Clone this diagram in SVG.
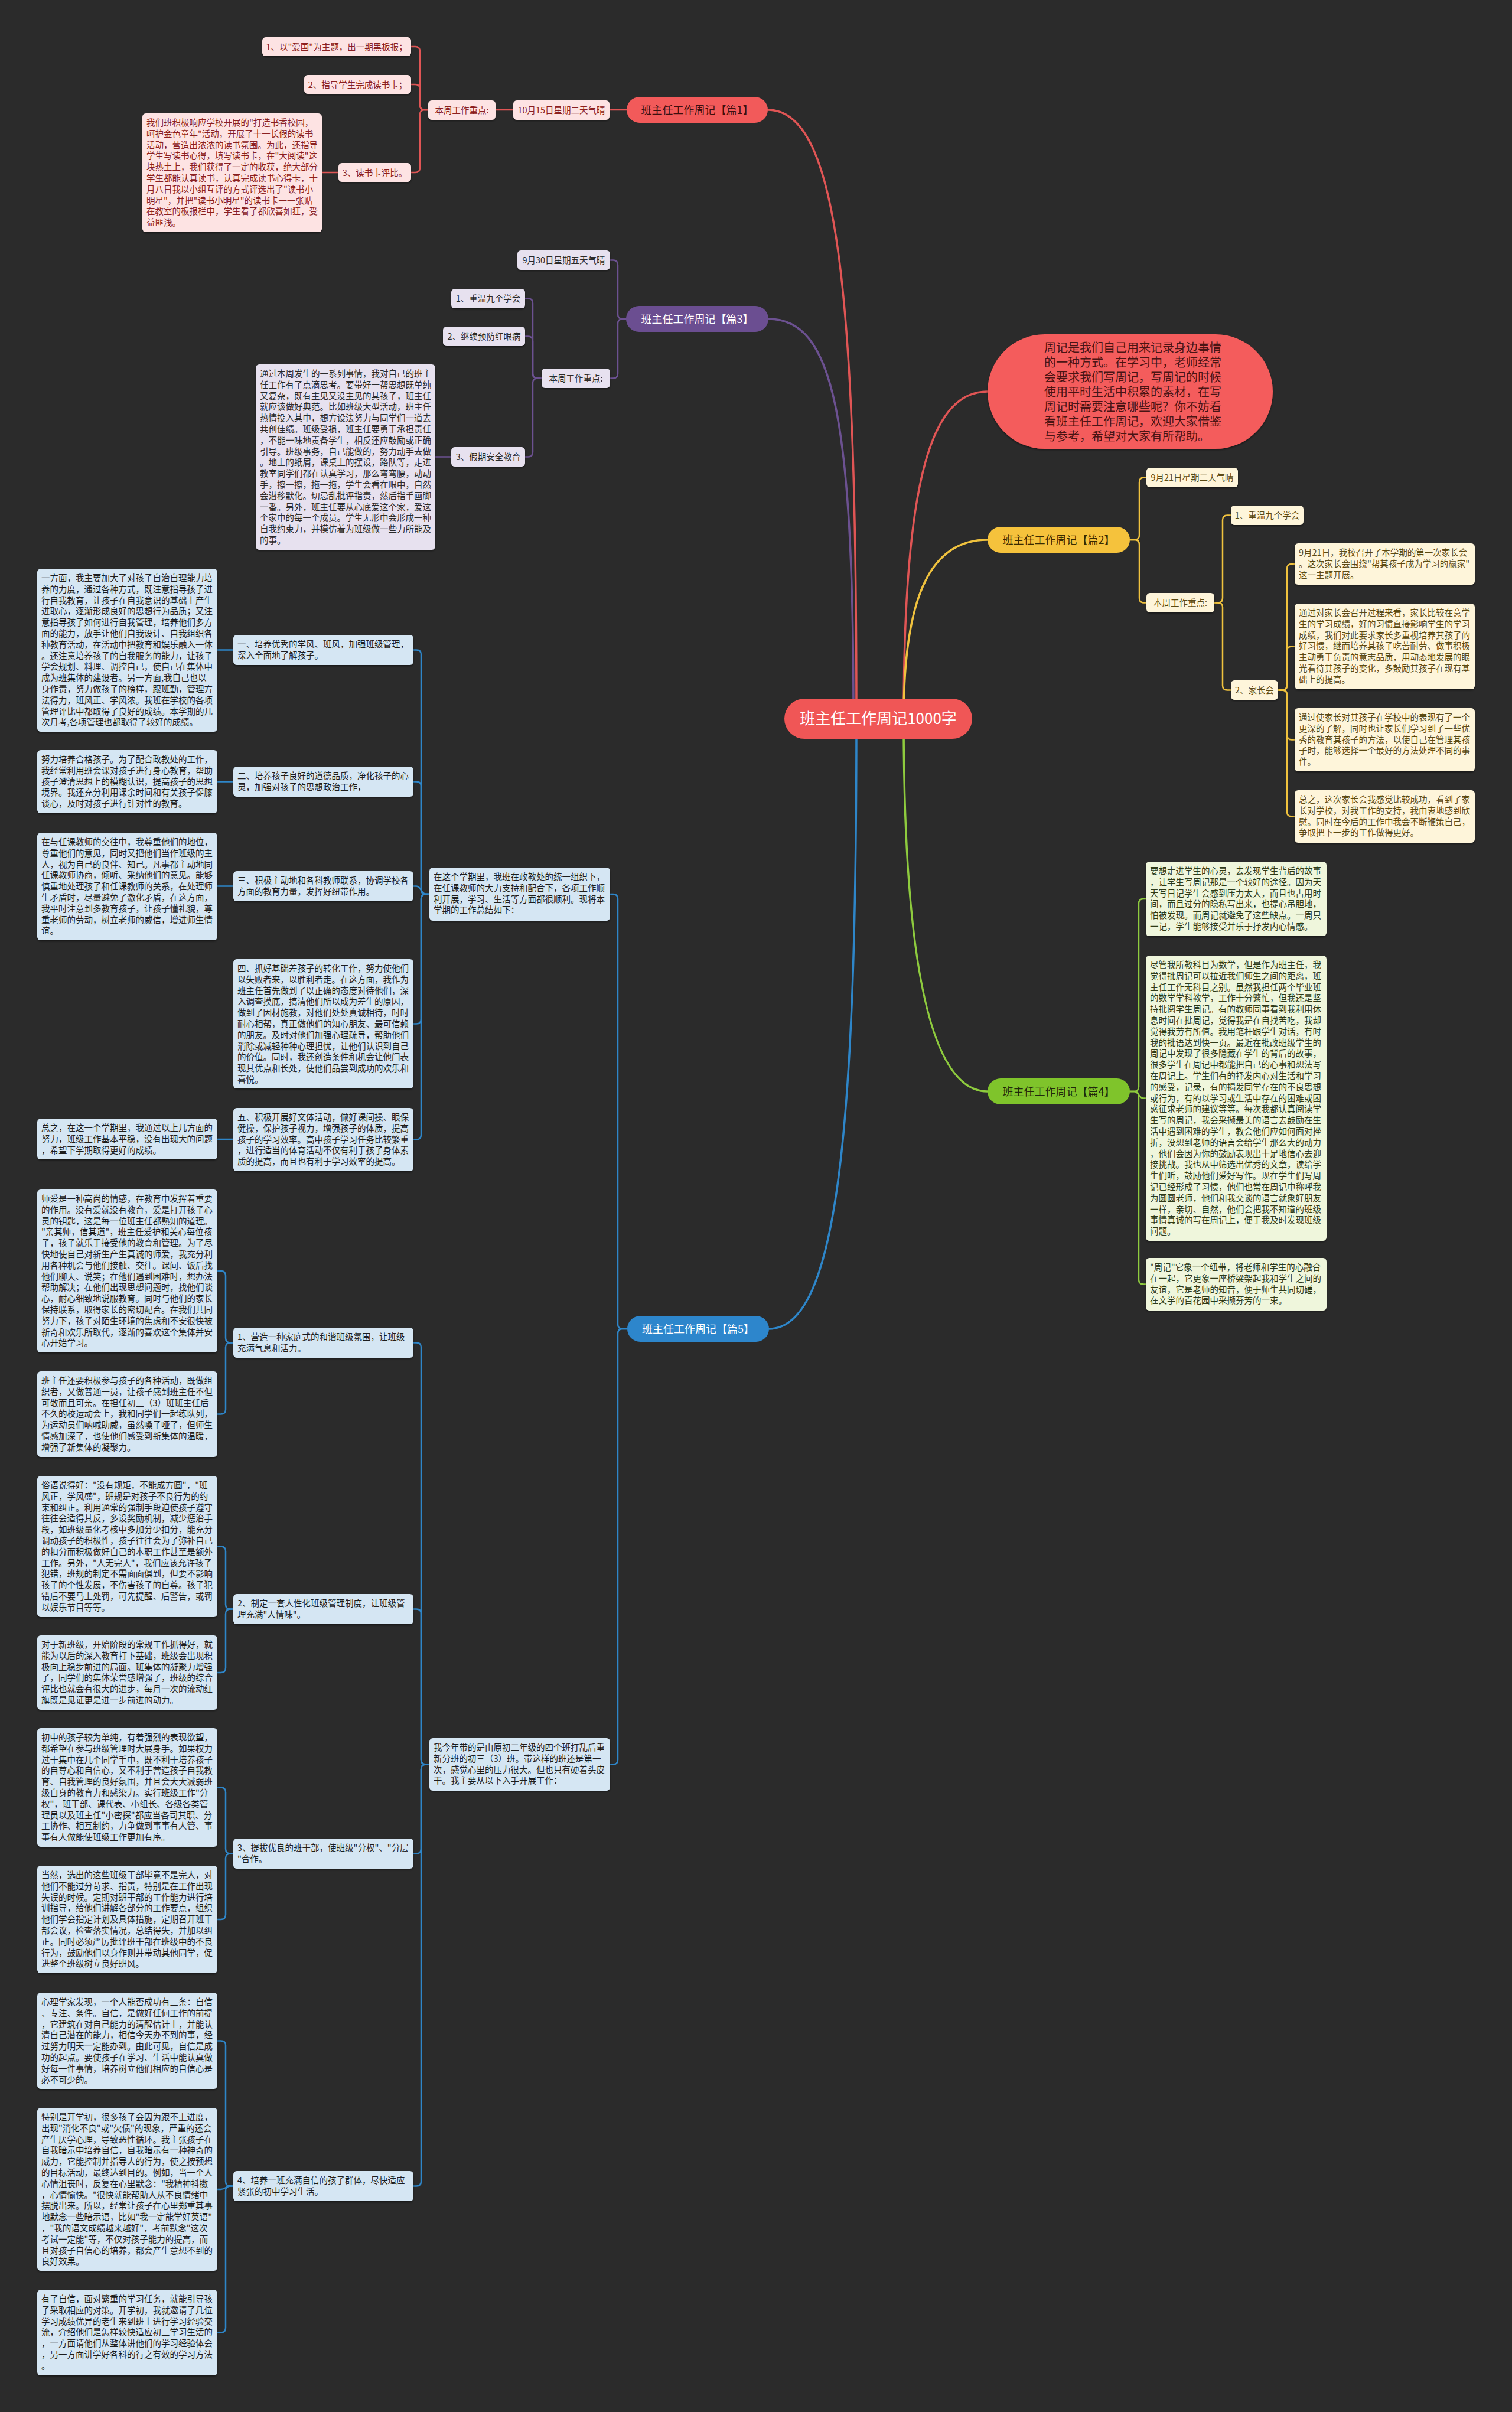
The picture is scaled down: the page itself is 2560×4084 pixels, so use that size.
<svg xmlns="http://www.w3.org/2000/svg" width="2560" height="4084" viewBox="0 0 2560 4084">
<defs>
<filter id="sh" x="-5%" y="-5%" width="110%" height="115%"><feDropShadow dx="0" dy="2" stdDeviation="1.5" flood-color="#000" flood-opacity="0.45"/></filter>
<style>
.tx{font-family:"Noto Sans CJK SC","Noto Sans",sans-serif;font-size:14.5px}
.tc{text-anchor:middle}
.bx{filter:url(#sh)}
.fr{fill:#fde3e3}.cr{fill:#8b2020}
.fp{fill:#e7e1ef}.cp{fill:#2a2a2a}
.fy{fill:#fef5da}.cy{fill:#5c4a13}
.fg{fill:#eff6dc}.cg{fill:#2e3a18}
.fb{fill:#d5e6f3}.cb{fill:#1d1d1d}
.ln{fill:none;stroke-width:2.5;stroke-linecap:round}
.lr{stroke:#e05555}.lp{stroke:#6c5191}.ly{stroke:#f0c23e}.lg{stroke:#8ecb3e}.lb{stroke:#2e86c9}
.rt{fill:none;stroke-width:3.5;stroke-linecap:round}
.pill{font-family:"Noto Sans CJK SC","Noto Sans",sans-serif;font-size:18px;text-anchor:middle}
</style>
</defs>
<rect x="0" y="0" width="2560" height="4084" fill="#2b2b2b"/>

<g id="connectors">
<path class="rt lr" d="M 1450 1217 C 1450 500, 1420 186, 1300 186"/>
<path class="rt lp" d="M 1445 1217 C 1445 700, 1410 540, 1301 540"/>
<path class="rt lb" d="M 1450 1217 C 1450 1900, 1420 2250, 1302 2250"/>
<path class="rt lr" d="M 1530 1217 C 1530 800, 1580 663, 1672 663"/>
<path class="rt ly" d="M 1530 1217 C 1530 1000, 1580 914, 1672 914"/>
<path class="rt lg" d="M 1530 1217 C 1530 1650, 1580 1848, 1672 1848"/>

<path class="ln lr" d="M 1061 186 H 1032"/>
<path class="ln lr" d="M 869 186 H 839"/>
<path class="ln lr" d="M 725 186 H 719 Q 711 186 711 178 V 87 Q 711 79 703 79 H 696"/>
<path class="ln lr" d="M 725 186 H 719 Q 711 186 711 178 V 151 Q 711 143 703 143 H 696"/>
<path class="ln lr" d="M 725 186 H 719 Q 711 186 711 194 V 284 Q 711 292 703 292 H 696"/>
<path class="ln lr" d="M 573 292 H 545"/>

<path class="ln lp" d="M 1060 540 H 1054 Q 1046 540 1046 532 V 448.5 Q 1046 440.5 1038 440.5 H 1033"/>
<path class="ln lp" d="M 1060 540 H 1054 Q 1046 540 1046 548 V 632.5 Q 1046 640.5 1038 640.5 H 1033"/>
<path class="ln lp" d="M 917 640.5 H 910 Q 902 640.5 902 632.5 V 513.5 Q 902 505.5 894 505.5 H 889"/>
<path class="ln lp" d="M 917 640.5 H 910 Q 902 640.5 902 632.5 V 577.5 Q 902 569.5 894 569.5 H 889"/>
<path class="ln lp" d="M 917 640.5 H 910 Q 902 640.5 902 648.5 V 765.5 Q 902 773.5 894 773.5 H 889"/>
<path class="ln lp" d="M 764 773.5 H 737"/>

<path class="ln ly" d="M 1913 914 H 1921 Q 1929 914 1929 906 V 816.5 Q 1929 808.5 1937 808.5 H 1941"/>
<path class="ln ly" d="M 1913 914 H 1921 Q 1929 914 1929 922 V 1012.5 Q 1929 1020.5 1937 1020.5 H 1941"/>
<path class="ln ly" d="M 2056 1020.5 H 2062 Q 2070 1020.5 2070 1012.5 V 880.5 Q 2070 872.5 2078 872.5 H 2084"/>
<path class="ln ly" d="M 2056 1020.5 H 2062 Q 2070 1020.5 2070 1028.5 V 1160.5 Q 2070 1168.5 2078 1168.5 H 2084"/>
<path class="ln ly" d="M 2164 1168.5 H 2171 Q 2179 1168.5 2179 1160.5 V 963 Q 2179 955 2187 955 H 2192"/>
<path class="ln ly" d="M 2164 1168.5 H 2171 Q 2179 1168.5 2179 1160.5 V 1102.5 Q 2179 1094.5 2187 1094.5 H 2192"/>
<path class="ln ly" d="M 2164 1168.5 H 2171 Q 2179 1168.5 2179 1176.5 V 1244.5 Q 2179 1252.5 2187 1252.5 H 2192"/>
<path class="ln ly" d="M 2164 1168.5 H 2171 Q 2179 1168.5 2179 1176.5 V 1374.5 Q 2179 1382.5 2187 1382.5 H 2192"/>

<path class="ln lg" d="M 1913 1848 H 1920 Q 1928 1848 1928 1840 V 1530 Q 1928 1522 1936 1522 H 1940"/>
<path class="ln lg" d="M 1913 1848 H 1920 C 1928 1848 1928 1859.5 1936 1859.5 H 1940"/>
<path class="ln lg" d="M 1913 1848 H 1920 Q 1928 1848 1928 1856 V 2166.5 Q 1928 2174.5 1936 2174.5 H 1940"/>

<path class="ln lb" d="M 1062 2250 H 1054 Q 1046 2250 1046 2242 V 1522 Q 1046 1514 1038 1514 H 1033"/>
<path class="ln lb" d="M 1062 2250 H 1054 Q 1046 2250 1046 2258 V 2979.5 Q 1046 2987.5 1038 2987.5 H 1033"/>
<path class="ln lb" d="M 727 1514 H 721 Q 713 1514 713 1506 V 1108.5 Q 713 1100.5 705 1100.5 H 700"/>
<path class="ln lb" d="M 727 1514 H 721 Q 713 1514 713 1506 V 1331.5 Q 713 1323.5 705 1323.5 H 700"/>
<path class="ln lb" d="M 727 1514 H 721 C 713 1514 713 1500.5 705 1500.5 H 700"/>
<path class="ln lb" d="M 727 1514 H 721 Q 713 1514 713 1522 V 1725.5 Q 713 1733.5 705 1733.5 H 700"/>
<path class="ln lb" d="M 727 1514 H 721 Q 713 1514 713 1522 V 1921.5 Q 713 1929.5 705 1929.5 H 700"/>
<path class="ln lb" d="M 395 1100.5 H 368"/>
<path class="ln lb" d="M 395 1323.5 H 368"/>
<path class="ln lb" d="M 395 1500.5 H 368"/>
<path class="ln lb" d="M 395 1929 H 368"/>
<path class="ln lb" d="M 727 2987.5 H 721 Q 713 2987.5 713 2979.5 V 2281.5 Q 713 2273.5 705 2273.5 H 700"/>
<path class="ln lb" d="M 727 2987.5 H 721 Q 713 2987.5 713 2979.5 V 2732.5 Q 713 2724.5 705 2724.5 H 700"/>
<path class="ln lb" d="M 727 2987.5 H 721 Q 713 2987.5 713 2995.5 V 3130.5 Q 713 3138.5 705 3138.5 H 700"/>
<path class="ln lb" d="M 727 2987.5 H 721 Q 713 2987.5 713 2995.5 V 3693.5 Q 713 3701.5 705 3701.5 H 700"/>
<path class="ln lb" d="M 395 2273.5 H 390 Q 382 2273.5 382 2265.5 V 2160 Q 382 2152 374 2152 H 368"/>
<path class="ln lb" d="M 395 2273.5 H 390 Q 382 2273.5 382 2281.5 V 2386.5 Q 382 2394.5 374 2394.5 H 368"/>
<path class="ln lb" d="M 395 2724.5 H 390 Q 382 2724.5 382 2716.5 V 2626.5 Q 382 2618.5 374 2618.5 H 368"/>
<path class="ln lb" d="M 395 2724.5 H 390 Q 382 2724.5 382 2732.5 V 2824 Q 382 2832 374 2832 H 368"/>
<path class="ln lb" d="M 395 3138.5 H 390 Q 382 3138.5 382 3130.5 V 3034.5 Q 382 3026.5 374 3026.5 H 368"/>
<path class="ln lb" d="M 395 3138.5 H 390 Q 382 3138.5 382 3146.5 V 3242 Q 382 3250 374 3250 H 368"/>
<path class="ln lb" d="M 395 3701.5 H 390 Q 382 3701.5 382 3693.5 V 3463.5 Q 382 3455.5 374 3455.5 H 368"/>
<path class="ln lb" d="M 395 3701.5 H 390 C 382 3701.5 382 3707 374 3707 H 368"/>
<path class="ln lb" d="M 395 3701.5 H 390 Q 382 3701.5 382 3709.5 V 3941.5 Q 382 3949.5 374 3949.5 H 368"/>
</g>

<g id="root">
<rect x="1328" y="1183" width="318" height="68" rx="34" fill="#f05656"/>
<text class="pill" x="1487" y="1226" style="font-size:26px" fill="#ffffff">班主任工作周记1000字</text>
</g>

<g id="intro">
<rect class="bx" x="1672" y="566" width="483" height="194" rx="97" fill="#f45b5b"/>
<text class="tx" x="1768" y="596" style="font-size:20px" fill="#4a1414"><tspan x="1768" dy="0">周记是我们自己用来记录身边事情</tspan><tspan x="1768" dy="25">的一种方式。在学习中，老师经常</tspan><tspan x="1768" dy="25">会要求我们写周记，写周记的时候</tspan><tspan x="1768" dy="25">使用平时生活中积累的素材，在写</tspan><tspan x="1768" dy="25">周记时需要注意哪些呢？你不妨看</tspan><tspan x="1768" dy="25">看班主任工作周记，欢迎大家借鉴</tspan><tspan x="1768" dy="25">与参考，希望对大家有所帮助。</tspan></text>
</g>

<g id="p1">
<rect x="1061" y="164" width="239" height="44" rx="22" fill="#f25a5a"/>
<text class="pill" x="1180.5" y="192.5" fill="#3d0f0f">班主任工作周记【篇1】</text>
</g>
<g id="p1-date"><rect class="bx fr" x="869" y="170" width="163" height="33" rx="6"/><text class="tx tc cr" x="950.5" y="191.5">10月15日星期二天气晴</text></g>
<g id="p1-focus"><rect class="bx fr" x="725" y="170" width="114" height="33" rx="6"/><text class="tx tc cr" x="782" y="191.5">本周工作重点:</text></g>
<g id="p1-a1"><rect class="bx fr" x="444" y="63" width="252" height="32" rx="6"/><text class="tx tc cr" x="570" y="84.5">1、以"爱国"为主题，出一期黑板报；</text></g>
<g id="p1-a2"><rect class="bx fr" x="515" y="127" width="181" height="32" rx="6"/><text class="tx tc cr" x="605.5" y="148.5">2、指导学生完成读书卡；</text></g>
<g id="p1-a3"><rect class="bx fr" x="573" y="276" width="123" height="32" rx="6"/><text class="tx tc cr" x="634.5" y="297.5">3、读书卡评比。</text></g>
<g id="p1-a3-t"><rect class="bx fr" x="241" y="192" width="304" height="201" rx="6"/>
<text class="tx cr" x="248" y="213"><tspan x="248" dy="0">我们班积极响应学校开展的"打造书香校园，</tspan><tspan x="248" dy="18.8">呵护金色童年"活动，开展了十一长假的读书</tspan><tspan x="248" dy="18.8">活动，营造出浓浓的读书氛围。为此，还指导</tspan><tspan x="248" dy="18.8">学生写读书心得，填写读书卡，在"大阅读"这</tspan><tspan x="248" dy="18.8">块热土上，我们获得了一定的收获，绝大部分</tspan><tspan x="248" dy="18.8">学生都能认真读书，认真完成读书心得卡，十</tspan><tspan x="248" dy="18.8">月八日我以小组互评的方式评选出了"读书小</tspan><tspan x="248" dy="18.8">明星"，并把"读书小明星"的读书卡一一张贴</tspan><tspan x="248" dy="18.8">在教室的板报栏中，学生看了都欣喜如狂，受</tspan><tspan x="248" dy="18.8">益匪浅。</tspan></text></g>

<g id="p3">
<rect x="1060" y="518" width="241" height="44" rx="22" fill="#6b4e91"/>
<text class="pill" x="1180.5" y="546.5" fill="#ffffff">班主任工作周记【篇3】</text>
</g>
<g id="p3-date"><rect class="bx fp" x="876" y="424" width="157" height="33" rx="6"/><text class="tx tc cp" x="954.5" y="446">9月30日星期五天气晴</text></g>
<g id="p3-focus"><rect class="bx fp" x="917" y="624" width="116" height="33" rx="6"/><text class="tx tc cp" x="975" y="646">本周工作重点:</text></g>
<g id="p3-a1"><rect class="bx fp" x="764" y="489" width="125" height="33" rx="6"/><text class="tx tc cp" x="826.5" y="511">1、重温九个学会</text></g>
<g id="p3-a2"><rect class="bx fp" x="750" y="553" width="139" height="33" rx="6"/><text class="tx tc cp" x="819.5" y="575">2、继续预防红眼病</text></g>
<g id="p3-a3"><rect class="bx fp" x="764" y="757" width="125" height="33" rx="6"/><text class="tx tc cp" x="826.5" y="779">3、假期安全教育</text></g>
<g id="p3-a3-t"><rect class="bx fp" x="433" y="617" width="304" height="314" rx="6"/>
<text class="tx cp" x="440" y="638"><tspan x="440" dy="0">通过本周发生的一系列事情，我对自己的班主</tspan><tspan x="440" dy="18.8">任工作有了点滴思考。要带好一帮思想既单纯</tspan><tspan x="440" dy="18.8">又复杂，既有主见又没主见的其孩子，班主任</tspan><tspan x="440" dy="18.8">就应该做好典范。比如班级大型活动，班主任</tspan><tspan x="440" dy="18.8">热情投入其中，想方设法努力与同学们一道去</tspan><tspan x="440" dy="18.8">共创佳绩。班级受损，班主任要勇于承担责任</tspan><tspan x="440" dy="18.8">，不能一味地责备学生，相反还应鼓励或正确</tspan><tspan x="440" dy="18.8">引导。班级事务，自己能做的，努力动手去做</tspan><tspan x="440" dy="18.8">。地上的纸屑，课桌上的摆设，路队等，走进</tspan><tspan x="440" dy="18.8">教室同学们都在认真学习，那么弯弯腰，动动</tspan><tspan x="440" dy="18.8">手，擦一擦，拖一拖，学生会看在眼中，自然</tspan><tspan x="440" dy="18.8">会潜移默化。切忌乱批评指责，然后指手画脚</tspan><tspan x="440" dy="18.8">一番。另外，班主任要从心底爱这个家，爱这</tspan><tspan x="440" dy="18.8">个家中的每一个成员。学生无形中会形成一种</tspan><tspan x="440" dy="18.8">自我约束力，并模仿着为班级做一些力所能及</tspan><tspan x="440" dy="18.8">的事。</tspan></text></g>

<g id="p2">
<rect x="1672" y="892" width="241" height="44" rx="22" fill="#f5c23c"/>
<text class="pill" x="1792.5" y="920.5" fill="#3a2a00">班主任工作周记【篇2】</text>
</g>
<g id="p2-date"><rect class="bx fy" x="1941" y="792" width="155" height="33" rx="6"/><text class="tx tc cy" x="2018.5" y="814">9月21日星期二天气晴</text></g>
<g id="p2-focus"><rect class="bx fy" x="1941" y="1004" width="115" height="33" rx="6"/><text class="tx tc cy" x="1998.5" y="1026">本周工作重点:</text></g>
<g id="p2-a1"><rect class="bx fy" x="2084" y="856" width="123" height="33" rx="6"/><text class="tx tc cy" x="2145.5" y="878">1、重温九个学会</text></g>
<g id="p2-a2"><rect class="bx fy" x="2084" y="1152" width="80" height="33" rx="6"/><text class="tx tc cy" x="2124" y="1174">2、家长会</text></g>
<g id="p2-t0"><rect class="bx fy" x="2192" y="920" width="305" height="70" rx="6"/>
<text class="tx cy" x="2199" y="941"><tspan x="2199" dy="0">9月21日，我校召开了本学期的第一次家长会</tspan><tspan x="2199" dy="18.8">。这次家长会围绕"帮其孩子成为学习的赢家"</tspan><tspan x="2199" dy="18.8">这一主题开展。</tspan></text></g>
<g id="p2-t1"><rect class="bx fy" x="2192" y="1022" width="305" height="145" rx="6"/>
<text class="tx cy" x="2199" y="1043"><tspan x="2199" dy="0">通过对家长会召开过程来看，家长比较在意学</tspan><tspan x="2199" dy="18.8">生的学习成绩，好的习惯直接影响学生的学习</tspan><tspan x="2199" dy="18.8">成绩，我们对此要求家长多重视培养其孩子的</tspan><tspan x="2199" dy="18.8">好习惯，继而培养其孩子吃苦耐劳、做事积极</tspan><tspan x="2199" dy="18.8">主动勇于负责的意志品质，用动态地发展的眼</tspan><tspan x="2199" dy="18.8">光看待其孩子的变化，多鼓励其孩子在现有基</tspan><tspan x="2199" dy="18.8">础上的提高。</tspan></text></g>
<g id="p2-t2"><rect class="bx fy" x="2192" y="1199" width="305" height="107" rx="6"/>
<text class="tx cy" x="2199" y="1220"><tspan x="2199" dy="0">通过使家长对其孩子在学校中的表现有了一个</tspan><tspan x="2199" dy="18.8">更深的了解，同时也让家长们学习到了一些优</tspan><tspan x="2199" dy="18.8">秀的教育其孩子的方法，以使自己在管理其孩</tspan><tspan x="2199" dy="18.8">子时，能够选择一个最好的方法处理不同的事</tspan><tspan x="2199" dy="18.8">件。</tspan></text></g>
<g id="p2-t3"><rect class="bx fy" x="2192" y="1338" width="305" height="89" rx="6"/>
<text class="tx cy" x="2199" y="1359"><tspan x="2199" dy="0">总之，这次家长会我感觉比较成功，看到了家</tspan><tspan x="2199" dy="18.8">长对学校，对我工作的支持，我由衷地感到欣</tspan><tspan x="2199" dy="18.8">慰。同时在今后的工作中我会不断鞭策自己，</tspan><tspan x="2199" dy="18.8">争取把下一步的工作做得更好。</tspan></text></g>

<g id="p4">
<rect x="1672" y="1826" width="241" height="44" rx="22" fill="#7fc42b"/>
<text class="pill" x="1792.5" y="1854.5" fill="#1f2a0c">班主任工作周记【篇4】</text>
</g>
<g id="p4-t1"><rect class="bx fg" x="1940" y="1459" width="306" height="126" rx="6"/>
<text class="tx cg" x="1947" y="1480"><tspan x="1947" dy="0">要想走进学生的心灵，去发现学生背后的故事</tspan><tspan x="1947" dy="18.8">，让学生写周记那是一个较好的途径。因为天</tspan><tspan x="1947" dy="18.8">天写日记学生会感到压力太大，而且也占用时</tspan><tspan x="1947" dy="18.8">间，而且过分的隐私写出来，也提心吊胆地，</tspan><tspan x="1947" dy="18.8">怕被发现。而周记就避免了这些缺点。一周只</tspan><tspan x="1947" dy="18.8">一记，学生能够接受并乐于抒发内心情感。</tspan></text></g>
<g id="p4-t2"><rect class="bx fg" x="1940" y="1618" width="306" height="483" rx="6"/>
<text class="tx cg" x="1947" y="1639"><tspan x="1947" dy="0">尽管我所教科目为数学，但是作为班主任，我</tspan><tspan x="1947" dy="18.8">觉得批周记可以拉近我们师生之间的距离，班</tspan><tspan x="1947" dy="18.8">主任工作无科目之别。虽然我担任两个毕业班</tspan><tspan x="1947" dy="18.8">的数学学科教学，工作十分繁忙，但我还是坚</tspan><tspan x="1947" dy="18.8">持批阅学生周记。有的教师同事看到我利用休</tspan><tspan x="1947" dy="18.8">息时间在批周记，觉得我是在自找苦吃，我却</tspan><tspan x="1947" dy="18.8">觉得我劳有所值。我用笔杆跟学生对话，有时</tspan><tspan x="1947" dy="18.8">我的批语达到快一页。最近在批改班级学生的</tspan><tspan x="1947" dy="18.8">周记中发现了很多隐藏在学生的背后的故事，</tspan><tspan x="1947" dy="18.8">很多学生在周记中都能把自己的心事和想法写</tspan><tspan x="1947" dy="18.8">在周记上。学生们有的抒发内心对生活和学习</tspan><tspan x="1947" dy="18.8">的感受，记录，有的揭发同学存在的不良思想</tspan><tspan x="1947" dy="18.8">或行为，有的以学习或生活中存在的困难或困</tspan><tspan x="1947" dy="18.8">惑征求老师的建议等等。每次我都认真阅读学</tspan><tspan x="1947" dy="18.8">生写的周记，我会采撷最美的语言去鼓励在生</tspan><tspan x="1947" dy="18.8">活中遇到困难的学生，教会他们应如何面对挫</tspan><tspan x="1947" dy="18.8">折，没想到老师的语言会给学生那么大的动力</tspan><tspan x="1947" dy="18.8">，他们会因为你的鼓励表现出十足地信心去迎</tspan><tspan x="1947" dy="18.8">接挑战。我也从中筛选出优秀的文章，读给学</tspan><tspan x="1947" dy="18.8">生们听，鼓励他们爱好写作。现在学生们写周</tspan><tspan x="1947" dy="18.8">记已经形成了习惯，他们也常在周记中称呼我</tspan><tspan x="1947" dy="18.8">为圆圆老师，他们和我交谈的语言就象好朋友</tspan><tspan x="1947" dy="18.8">一样，亲切、自然，他们会把我不知道的班级</tspan><tspan x="1947" dy="18.8">事情真诚的写在周记上，便于我及时发现班级</tspan><tspan x="1947" dy="18.8">问题。</tspan></text></g>
<g id="p4-t3"><rect class="bx fg" x="1940" y="2130" width="306" height="89" rx="6"/>
<text class="tx cg" x="1947" y="2151"><tspan x="1947" dy="0">"周记"它象一个纽带，将老师和学生的心融合</tspan><tspan x="1947" dy="18.8">在一起，它更象一座桥梁架起我和学生之间的</tspan><tspan x="1947" dy="18.8">友谊，它是老师的知音，便于师生共同切磋，</tspan><tspan x="1947" dy="18.8">在文学的百花园中采撷芬芳的一束。</tspan></text></g>

<g id="p5">
<rect x="1062" y="2228" width="240" height="44" rx="22" fill="#2d86cc"/>
<text class="pill" x="1182" y="2256.5" fill="#ffffff">班主任工作周记【篇5】</text>
</g>
<g id="p5-s1"><rect class="bx fb" x="727" y="1469" width="306" height="90" rx="6"/>
<text class="tx cb" x="734" y="1490"><tspan x="734" dy="0">在这个学期里，我班在政教处的统一组织下，</tspan><tspan x="734" dy="18.8">在任课教师的大力支持和配合下，各项工作顺</tspan><tspan x="734" dy="18.8">利开展，学习、生活等方面都很顺利。现将本</tspan><tspan x="734" dy="18.8">学期的工作总结如下：</tspan></text></g>
<g id="p5-s1-1"><rect class="bx fb" x="395" y="1075" width="305" height="51" rx="6"/>
<text class="tx cb" x="402" y="1096"><tspan x="402" dy="0">一、培养优秀的学风、班风，加强班级管理，</tspan><tspan x="402" dy="18.8">深入全面地了解孩子。</tspan></text></g>
<g id="p5-s1-2"><rect class="bx fb" x="395" y="1298" width="305" height="51" rx="6"/>
<text class="tx cb" x="402" y="1319"><tspan x="402" dy="0">二、培养孩子良好的道德品质，净化孩子的心</tspan><tspan x="402" dy="18.8">灵，加强对孩子的思想政治工作，</tspan></text></g>
<g id="p5-s1-3"><rect class="bx fb" x="395" y="1475" width="305" height="51" rx="6"/>
<text class="tx cb" x="402" y="1496"><tspan x="402" dy="0">三、积极主动地和各科教师联系，协调学校各</tspan><tspan x="402" dy="18.8">方面的教育力量，发挥好纽带作用。</tspan></text></g>
<g id="p5-s1-4"><rect class="bx fb" x="395" y="1624" width="305" height="219" rx="6"/>
<text class="tx cb" x="402" y="1645"><tspan x="402" dy="0">四、抓好基础差孩子的转化工作，努力使他们</tspan><tspan x="402" dy="18.8">以失败者来，以胜利者走。在这方面，我作为</tspan><tspan x="402" dy="18.8">班主任首先做到了以正确的态度对待他们，深</tspan><tspan x="402" dy="18.8">入调查摸底，搞清他们所以成为差生的原因，</tspan><tspan x="402" dy="18.8">做到了因材施教，对他们处处真诚相待，时时</tspan><tspan x="402" dy="18.8">耐心相帮，真正做他们的知心朋友、最可信赖</tspan><tspan x="402" dy="18.8">的朋友。及时对他们加强心理疏导，帮助他们</tspan><tspan x="402" dy="18.8">消除或减轻种种心理担忧，让他们认识到自己</tspan><tspan x="402" dy="18.8">的价值。同时，我还创造条件和机会让他门表</tspan><tspan x="402" dy="18.8">现其优点和长处，使他们品尝到成功的欢乐和</tspan><tspan x="402" dy="18.8">喜悦。</tspan></text></g>
<g id="p5-s1-5"><rect class="bx fb" x="395" y="1876" width="305" height="107" rx="6"/>
<text class="tx cb" x="402" y="1897"><tspan x="402" dy="0">五、积极开展好文体活动，做好课间操、眼保</tspan><tspan x="402" dy="18.8">健操，保护孩子视力，增强孩子的体质，提高</tspan><tspan x="402" dy="18.8">孩子的学习效率。高中孩子学习任务比较繁重</tspan><tspan x="402" dy="18.8">，进行适当的体育活动不仅有利于孩子身体素</tspan><tspan x="402" dy="18.8">质的提高，而且也有利于学习效率的提高。</tspan></text></g>
<g id="p5-s1-1a"><rect class="bx fb" x="63" y="963" width="305" height="276" rx="6"/>
<text class="tx cb" x="70" y="984"><tspan x="70" dy="0">一方面，我主要加大了对孩子自治自理能力培</tspan><tspan x="70" dy="18.8">养的力度，通过各种方式，既注意指导孩子进</tspan><tspan x="70" dy="18.8">行自我教育，让孩子在自我意识的基础上产生</tspan><tspan x="70" dy="18.8">进取心，逐渐形成良好的思想行为品质；又注</tspan><tspan x="70" dy="18.8">意指导孩子如何进行自我管理，培养他们多方</tspan><tspan x="70" dy="18.8">面的能力，放手让他们自我设计、自我组织各</tspan><tspan x="70" dy="18.8">种教育活动，在活动中把教育和娱乐融入一体</tspan><tspan x="70" dy="18.8">。还注意培养孩子的自我服务的能力，让孩子</tspan><tspan x="70" dy="18.8">学会规划、料理、调控自己，使自己在集体中</tspan><tspan x="70" dy="18.8">成为班集体的建设者。另一方面,我自己也以</tspan><tspan x="70" dy="18.8">身作责，努力做孩子的榜样，跟班勤，管理方</tspan><tspan x="70" dy="18.8">法得力，班风正、学风浓。我班在学校的各项</tspan><tspan x="70" dy="18.8">管理评比中都取得了良好的成绩。本学期的几</tspan><tspan x="70" dy="18.8">次月考,各项管理也都取得了较好的成绩。</tspan></text></g>
<g id="p5-s1-2a"><rect class="bx fb" x="63" y="1270" width="305" height="107" rx="6"/>
<text class="tx cb" x="70" y="1291"><tspan x="70" dy="0">努力培养合格孩子。为了配合政教处的工作，</tspan><tspan x="70" dy="18.8">我经常利用班会课对孩子进行身心教育，帮助</tspan><tspan x="70" dy="18.8">孩子澄清思想上的模糊认识，提高孩子的思想</tspan><tspan x="70" dy="18.8">境界。我还充分利用课余时间和有关孩子促膝</tspan><tspan x="70" dy="18.8">谈心，及时对孩子进行针对性的教育。</tspan></text></g>
<g id="p5-s1-3a"><rect class="bx fb" x="63" y="1410" width="305" height="182" rx="6"/>
<text class="tx cb" x="70" y="1431"><tspan x="70" dy="0">在与任课教师的交往中，我尊重他们的地位，</tspan><tspan x="70" dy="18.8">尊重他们的意见，同时又把他们当作班级的主</tspan><tspan x="70" dy="18.8">人，视为自己的良伴、知己。凡事都主动地同</tspan><tspan x="70" dy="18.8">任课教师协商，倾听、采纳他们的意见。能够</tspan><tspan x="70" dy="18.8">慎重地处理孩子和任课教师的关系，在处理师</tspan><tspan x="70" dy="18.8">生矛盾时，尽量避免了激化矛盾，在这方面，</tspan><tspan x="70" dy="18.8">我平时注意到多教育孩子，让孩子懂礼貌，尊</tspan><tspan x="70" dy="18.8">重老师的劳动，树立老师的威信，增进师生情</tspan><tspan x="70" dy="18.8">谊。</tspan></text></g>
<g id="p5-s1-5a"><rect class="bx fb" x="63" y="1894" width="305" height="69" rx="6"/>
<text class="tx cb" x="70" y="1915"><tspan x="70" dy="0">总之，在这一个学期里，我通过以上几方面的</tspan><tspan x="70" dy="18.8">努力，班级工作基本平稳，没有出现大的问题</tspan><tspan x="70" dy="18.8">，希望下学期取得更好的成绩。</tspan></text></g>

<g id="p5-s2"><rect class="bx fb" x="727" y="2943" width="306" height="89" rx="6"/>
<text class="tx cb" x="734" y="2964"><tspan x="734" dy="0">我今年带的是由原初二年级的四个班打乱后重</tspan><tspan x="734" dy="18.8">新分班的初三（3）班。带这样的班还是第一</tspan><tspan x="734" dy="18.8">次，感觉心里的压力很大。但也只有硬着头皮</tspan><tspan x="734" dy="18.8">干。我主要从以下入手开展工作：</tspan></text></g>
<g id="p5-s2-1"><rect class="bx fb" x="395" y="2248" width="305" height="51" rx="6"/>
<text class="tx cb" x="402" y="2269"><tspan x="402" dy="0">1、营造一种家庭式的和谐班级氛围，让班级</tspan><tspan x="402" dy="18.8">充满气息和活力。</tspan></text></g>
<g id="p5-s2-2"><rect class="bx fb" x="395" y="2699" width="305" height="51" rx="6"/>
<text class="tx cb" x="402" y="2720"><tspan x="402" dy="0">2、制定一套人性化班级管理制度，让班级管</tspan><tspan x="402" dy="18.8">理充满"人情味"。</tspan></text></g>
<g id="p5-s2-3"><rect class="bx fb" x="395" y="3113" width="305" height="51" rx="6"/>
<text class="tx cb" x="402" y="3134"><tspan x="402" dy="0">3、提拔优良的班干部，使班级"分权"、"分层</tspan><tspan x="402" dy="18.8">"合作。</tspan></text></g>
<g id="p5-s2-4"><rect class="bx fb" x="395" y="3676" width="305" height="51" rx="6"/>
<text class="tx cb" x="402" y="3697"><tspan x="402" dy="0">4、培养一班充满自信的孩子群体，尽快适应</tspan><tspan x="402" dy="18.8">紧张的初中学习生活。</tspan></text></g>
<g id="p5-s2-1a"><rect class="bx fb" x="63" y="2014" width="305" height="276" rx="6"/>
<text class="tx cb" x="70" y="2035"><tspan x="70" dy="0">师爱是一种高尚的情感，在教育中发挥着重要</tspan><tspan x="70" dy="18.8">的作用。没有爱就没有教育，爱是打开孩子心</tspan><tspan x="70" dy="18.8">灵的钥匙，这是每一位班主任都熟知的道理。</tspan><tspan x="70" dy="18.8">"亲其师，信其道"，班主任爱护和关心每位孩</tspan><tspan x="70" dy="18.8">子，孩子就乐于接受他的教育和管理。为了尽</tspan><tspan x="70" dy="18.8">快地使自己对新生产生真诚的师爱，我充分利</tspan><tspan x="70" dy="18.8">用各种机会与他们接触、交往。课间、饭后找</tspan><tspan x="70" dy="18.8">他们聊天、说笑；在他们遇到困难时，想办法</tspan><tspan x="70" dy="18.8">帮助解决；在他们出现思想问题时，找他们谈</tspan><tspan x="70" dy="18.8">心，耐心细致地说服教育。同时与他们的家长</tspan><tspan x="70" dy="18.8">保持联系，取得家长的密切配合。在我们共同</tspan><tspan x="70" dy="18.8">努力下，孩子对陌生环境的焦虑和不安很快被</tspan><tspan x="70" dy="18.8">新奇和欢乐所取代，逐渐的喜欢这个集体并安</tspan><tspan x="70" dy="18.8">心开始学习。</tspan></text></g>
<g id="p5-s2-1b"><rect class="bx fb" x="63" y="2322" width="305" height="145" rx="6"/>
<text class="tx cb" x="70" y="2343"><tspan x="70" dy="0">班主任还要积极参与孩子的各种活动，既做组</tspan><tspan x="70" dy="18.8">织者，又做普通一员，让孩子感到班主任不但</tspan><tspan x="70" dy="18.8">可敬而且可亲。在担任初三（3）班班主任后</tspan><tspan x="70" dy="18.8">不久的校运动会上，我和同学们一起练队列，</tspan><tspan x="70" dy="18.8">为运动员们呐喊助威，虽然嗓子哑了，但师生</tspan><tspan x="70" dy="18.8">情感加深了，也使他们感受到新集体的温暖，</tspan><tspan x="70" dy="18.8">增强了新集体的凝聚力。</tspan></text></g>
<g id="p5-s2-2a"><rect class="bx fb" x="63" y="2499" width="305" height="239" rx="6"/>
<text class="tx cb" x="70" y="2520"><tspan x="70" dy="0">俗语说得好："没有规矩，不能成方圆"，"班</tspan><tspan x="70" dy="18.8">风正，学风盛"，班规是对孩子不良行为的约</tspan><tspan x="70" dy="18.8">束和纠正。利用通常的强制手段迫使孩子遵守</tspan><tspan x="70" dy="18.8">往往会适得其反，多设奖励机制，减少惩治手</tspan><tspan x="70" dy="18.8">段，如班级量化考核中多加分少扣分，能充分</tspan><tspan x="70" dy="18.8">调动孩子的积极性，孩子往往会为了弥补自己</tspan><tspan x="70" dy="18.8">的扣分而积极做好自己的本职工作甚至是额外</tspan><tspan x="70" dy="18.8">工作。另外，"人无完人"，我们应该允许孩子</tspan><tspan x="70" dy="18.8">犯错，班规的制定不需面面俱到，但要不影响</tspan><tspan x="70" dy="18.8">孩子的个性发展，不伤害孩子的自尊。孩子犯</tspan><tspan x="70" dy="18.8">错后不要马上处罚，可先提醒、后警告，或罚</tspan><tspan x="70" dy="18.8">以娱乐节目等等。</tspan></text></g>
<g id="p5-s2-2b"><rect class="bx fb" x="63" y="2769" width="305" height="126" rx="6"/>
<text class="tx cb" x="70" y="2790"><tspan x="70" dy="0">对于新班级，开始阶段的常规工作抓得好，就</tspan><tspan x="70" dy="18.8">能为以后的深入教育打下基础，班级会出现积</tspan><tspan x="70" dy="18.8">极向上稳步前进的局面。班集体的凝聚力增强</tspan><tspan x="70" dy="18.8">了，同学们的集体荣誉感增强了，班级的综合</tspan><tspan x="70" dy="18.8">评比也就会有很大的进步，每月一次的流动红</tspan><tspan x="70" dy="18.8">旗既是见证更是进一步前进的动力。</tspan></text></g>
<g id="p5-s2-3a"><rect class="bx fb" x="63" y="2926" width="305" height="201" rx="6"/>
<text class="tx cb" x="70" y="2947"><tspan x="70" dy="0">初中的孩子较为单纯，有着强烈的表现欲望，</tspan><tspan x="70" dy="18.8">都希望在参与班级管理时大展身手。如果权力</tspan><tspan x="70" dy="18.8">过于集中在几个同学手中，既不利于培养孩子</tspan><tspan x="70" dy="18.8">的自尊心和自信心，又不利于营造孩子自我教</tspan><tspan x="70" dy="18.8">育、自我管理的良好氛围，并且会大大减弱班</tspan><tspan x="70" dy="18.8">级自身的教育力和感染力。实行班级工作"分</tspan><tspan x="70" dy="18.8">权"，班干部、课代表、小组长、各级各类管</tspan><tspan x="70" dy="18.8">理员以及班主任"小密探"都应当各司其职、分</tspan><tspan x="70" dy="18.8">工协作、相互制约，力争做到事事有人管、事</tspan><tspan x="70" dy="18.8">事有人做能使班级工作更加有序。</tspan></text></g>
<g id="p5-s2-3b"><rect class="bx fb" x="63" y="3159" width="305" height="182" rx="6"/>
<text class="tx cb" x="70" y="3180"><tspan x="70" dy="0">当然，选出的这些班级干部毕竟不是完人，对</tspan><tspan x="70" dy="18.8">他们不能过分苛求、指责，特别是在工作出现</tspan><tspan x="70" dy="18.8">失误的时候。定期对班干部的工作能力进行培</tspan><tspan x="70" dy="18.8">训指导，给他们讲解各部分的工作要点，组织</tspan><tspan x="70" dy="18.8">他们学会指定计划及具体措施，定期召开班干</tspan><tspan x="70" dy="18.8">部会议，检查落实情况，总结得失，并加以纠</tspan><tspan x="70" dy="18.8">正。同时必须严厉批评班干部在班级中的不良</tspan><tspan x="70" dy="18.8">行为，鼓励他们以身作则并带动其他同学，促</tspan><tspan x="70" dy="18.8">进整个班级树立良好班风。</tspan></text></g>
<g id="p5-s2-4a"><rect class="bx fb" x="63" y="3374" width="305" height="163" rx="6"/>
<text class="tx cb" x="70" y="3395"><tspan x="70" dy="0">心理学家发现，一个人能否成功有三条：自信</tspan><tspan x="70" dy="18.8">、专注、条件。自信，是做好任何工作的前提</tspan><tspan x="70" dy="18.8">，它建筑在对自己能力的清醒估计上，并能认</tspan><tspan x="70" dy="18.8">清自己潜在的能力，相信今天办不到的事，经</tspan><tspan x="70" dy="18.8">过努力明天一定能办到。由此可见，自信是成</tspan><tspan x="70" dy="18.8">功的起点。要使孩子在学习、生活中能认真做</tspan><tspan x="70" dy="18.8">好每一件事情，培养树立他们相应的自信心是</tspan><tspan x="70" dy="18.8">必不可少的。</tspan></text></g>
<g id="p5-s2-4b"><rect class="bx fb" x="63" y="3569" width="305" height="276" rx="6"/>
<text class="tx cb" x="70" y="3590"><tspan x="70" dy="0">特别是开学初，很多孩子会因为跟不上进度，</tspan><tspan x="70" dy="18.8">出现"消化不良"或"欠债"的现象，严重的还会</tspan><tspan x="70" dy="18.8">产生厌学心理，导致恶性循环。我主张孩子在</tspan><tspan x="70" dy="18.8">自我暗示中培养自信，自我暗示有一种神奇的</tspan><tspan x="70" dy="18.8">威力，它能控制并指导人的行为，使之按预想</tspan><tspan x="70" dy="18.8">的目标活动，最终达到目的。例如，当一个人</tspan><tspan x="70" dy="18.8">心情沮丧时，反复在心里默念："我精神抖擞</tspan><tspan x="70" dy="18.8">，心情愉快。"很快就能帮助人从不良情绪中</tspan><tspan x="70" dy="18.8">摆脱出来。所以，经常让孩子在心里郑重其事</tspan><tspan x="70" dy="18.8">地默念一些暗示语，比如"我一定能学好英语"</tspan><tspan x="70" dy="18.8">，"我的语文成绩越来越好"，考前默念"这次</tspan><tspan x="70" dy="18.8">考试一定能"等，不仅对孩子能力的提高，而</tspan><tspan x="70" dy="18.8">且对孩子自信心的培养，都会产生意想不到的</tspan><tspan x="70" dy="18.8">良好效果。</tspan></text></g>
<g id="p5-s2-4c"><rect class="bx fb" x="63" y="3877" width="305" height="145" rx="6"/>
<text class="tx cb" x="70" y="3898"><tspan x="70" dy="0">有了自信，面对繁重的学习任务，就能引导孩</tspan><tspan x="70" dy="18.8">子采取相应的对策。开学初，我就邀请了几位</tspan><tspan x="70" dy="18.8">学习成绩优异的老生来到班上进行学习经验交</tspan><tspan x="70" dy="18.8">流，介绍他们是怎样较快适应初三学习生活的</tspan><tspan x="70" dy="18.8">，一方面请他们从整体讲他们的学习经验体会</tspan><tspan x="70" dy="18.8">，另一方面讲学好各科的行之有效的学习方法</tspan><tspan x="70" dy="18.8">。</tspan></text></g>
</svg>
